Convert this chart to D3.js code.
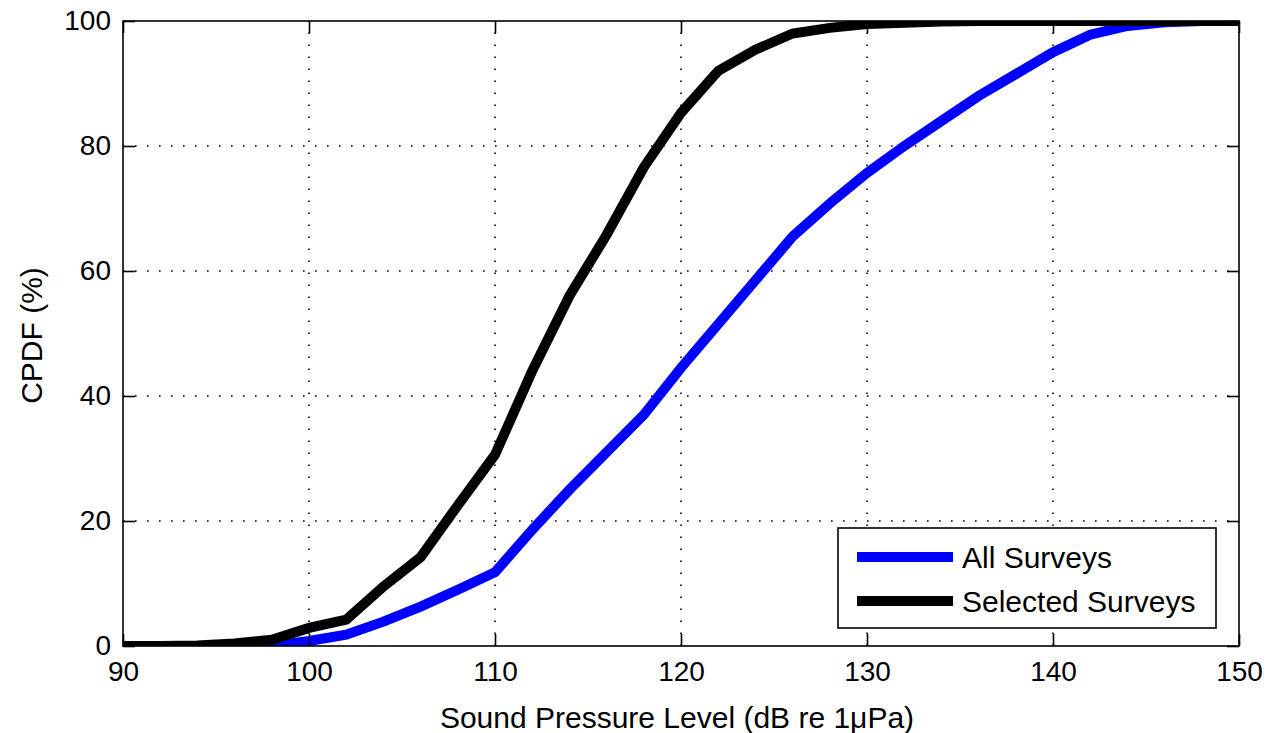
<!DOCTYPE html>
<html>
<head>
<meta charset="utf-8">
<script src="https://cdn.jsdelivr.net/npm/d3@7/dist/d3.min.js"></script>
<style>
  html, body { margin: 0; padding: 0; background: #fff; }
  text { font-family: "Liberation Sans", Arial, Helvetica, sans-serif; fill: #000; }
</style>
</head>
<body>
<svg id="chart" width="1266" height="733"></svg>
<script>
// ---- data ----
const splLevels = [90, 92, 94, 96, 98, 100, 102, 104, 106, 108, 110, 112, 114, 116, 118, 120,
                   122, 124, 126, 128, 130, 132, 134, 136, 138, 140, 142, 144, 146, 148, 150];
const allSurveys = [0, 0, 0, 0, 0, 0.8, 1.8, 3.9, 6.3, 9, 11.8, 18.6, 25, 31, 37, 44.5,
                    51.5, 58.5, 65.5, 70.8, 75.7, 80, 84, 88, 91.5, 95, 97.8, 99.2, 99.8, 100, 100];
const selectedSurveys = [0, 0, 0.1, 0.4, 1.0, 2.9, 4.2, 9.5, 14.2, 22.5, 30.6, 44, 56, 65.8, 76.6, 85.3,
                         92, 95.4, 98, 98.9, 99.5, 99.7, 99.9, 100, 100, 100, 100, 100, 100, 100, 100];
const xTicks = [90, 100, 110, 120, 130, 140, 150];
const yTicks = [0, 20, 40, 60, 80, 100];
const seriesNames = ["All Surveys", "Selected Surveys"];
const seriesColors = ["#0000ff", "#000000"];
const xLabel = "Sound Pressure Level (dB re 1\u03bcPa)";
const yLabel = "CPDF (%)";

// ---- layout ----
const L = 123, R = 1239, T = 21, B = 646;
const svg = d3.select("#chart");
const x = d3.scaleLinear().domain([90, 150]).range([L, R]);
const y = d3.scaleLinear().domain([0, 100]).range([B, T]);
const fontSize = 28;
const labelSize = 30;

// grid
const grid = svg.append("g");
grid.selectAll("line.gx").data(xTicks.slice(1, -1)).join("line")
  .attr("x1", d => x(d)).attr("x2", d => x(d)).attr("y1", B).attr("y2", T)
  .attr("stroke", "#000").attr("stroke-width", 1.6).attr("stroke-dasharray", "1.6,10.4");
grid.selectAll("line.gy").data(yTicks.slice(1, -1)).join("line")
  .attr("x1", L).attr("x2", R).attr("y1", d => y(d)).attr("y2", d => y(d))
  .attr("stroke", "#000").attr("stroke-width", 1.6).attr("stroke-dasharray", "1.6,10.4");

// clip
svg.append("clipPath").attr("id", "clip").append("rect")
  .attr("x", L).attr("y", T).attr("width", R - L).attr("height", B - T);

const line = d3.line().x(d => x(d[0])).y(d => y(d[1]));
const series = [allSurveys, selectedSurveys];
const plot = svg.append("g").attr("clip-path", "url(#clip)");
series.forEach((vals, i) => {
  plot.append("path")
    .datum(splLevels.map((s, j) => [s, vals[j]]))
    .attr("d", line)
    .attr("fill", "none")
    .attr("stroke", seriesColors[i])
    .attr("stroke-width", 10)
    .attr("stroke-linejoin", "miter");
});

// axes (MATLAB-style box with inward ticks on all sides)
const tickLen = 12;
const axB = d3.axisBottom(x).tickValues(xTicks).tickSize(-tickLen).tickPadding(14);
const axT = d3.axisTop(x).tickValues(xTicks).tickSize(-tickLen).tickFormat("");
const axL = d3.axisLeft(y).tickValues(yTicks).tickSize(-tickLen).tickPadding(14);
const axR = d3.axisRight(y).tickValues(yTicks).tickSize(-tickLen).tickFormat("");

function style(g) {
  g.select(".domain").remove();
  g.selectAll(".tick line").attr("stroke", "#000").attr("stroke-width", 1.6);
  g.selectAll(".tick text").attr("font-size", fontSize)
   .style("font-family", '"Liberation Sans", Arial, sans-serif').attr("fill", "#000");
}
svg.append("g").attr("transform", `translate(0,${B})`).call(axB).call(style)
  .selectAll(".tick text").attr("dy", "0.71em").attr("y", 15);
svg.append("g").attr("transform", `translate(0,${T})`).call(axT).call(style);
svg.append("g").attr("transform", `translate(${L},0)`).call(axL).call(style)
  .selectAll(".tick text").attr("x", -12);
svg.append("g").attr("transform", `translate(${R},0)`).call(axR).call(style);

svg.append("rect").attr("x", L).attr("y", T).attr("width", R - L).attr("height", B - T)
  .attr("fill", "none").attr("stroke", "#000").attr("stroke-width", 1.6);

// axis labels
svg.append("text").attr("x", 677).attr("y", 728)
  .attr("text-anchor", "middle").attr("font-size", labelSize).text(xLabel);
svg.append("text").attr("transform", `translate(42,${(T + B) / 2 + 2}) rotate(-90)`)
  .attr("text-anchor", "middle").attr("font-size", labelSize).text(yLabel);

// legend
const lg = svg.append("g");
lg.append("rect").attr("x", 838).attr("y", 528).attr("width", 378).attr("height", 100)
  .attr("fill", "#fff").attr("stroke", "#000").attr("stroke-width", 1.6);
seriesNames.forEach((name, i) => {
  const cy = 557 + i * 44;
  lg.append("line").attr("x1", 857).attr("x2", 953).attr("y1", cy).attr("y2", cy)
    .attr("stroke", seriesColors[i]).attr("stroke-width", 10);
  lg.append("text").attr("x", 962).attr("y", cy).attr("dy", "0.35em")
    .attr("font-size", labelSize).text(name);
});
</script>
</body>
</html>
